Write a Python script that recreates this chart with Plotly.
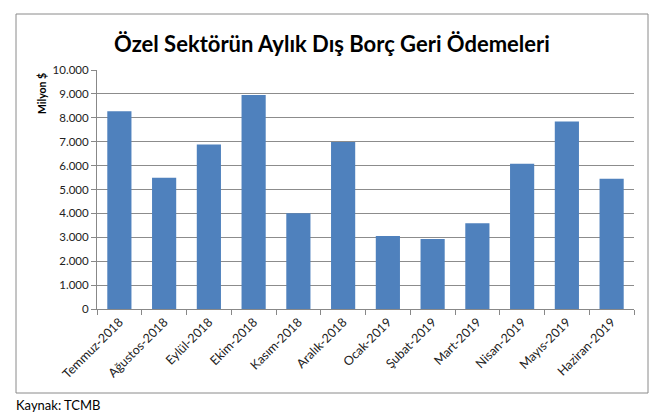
import plotly.graph_objects as go

months = ["Temmuz-2018", "Ağustos-2018", "Eylül-2018", "Ekim-2018", "Kasım-2018", "Aralık-2018",
          "Ocak-2019", "Şubat-2019", "Mart-2019", "Nisan-2019", "Mayıs-2019", "Haziran-2019"]
values = [8270, 5490, 6880, 8950, 4010, 6990, 3050, 2930, 3590, 6080, 7850, 5450]
y_ticks = [0, 1000, 2000, 3000, 4000, 5000, 6000, 7000, 8000, 9000, 10000]

W, H = 663, 413
L, R, T, B = 97, 634, 70, 309

def px_x(px):
    return (px - L) / (R - L)

def px_y(py):
    return (B - py) / (B - T)

fig = go.Figure(go.Bar(x=months, y=values, marker=dict(color="#4F81BD", line=dict(width=0)),
                       width=0.54))

font_family = "Lato, 'Open Sans', sans-serif"

fig.update_layout(
    width=W, height=H,
    margin=dict(l=L, r=W - R, t=T, b=H - B),
    plot_bgcolor="white", paper_bgcolor="white",
    separators=",.",
    font=dict(family=font_family, size=11, color="#222"),
    title=dict(text="<b>Özel Sektörün Aylık Dış Borç Geri Ödemeleri</b>",
               x=332 / W, xanchor="center", y=1 - 44 / H, yanchor="middle",
               font=dict(family=font_family, size=22, color="black")),
    showlegend=False,
    xaxis=dict(type="category", tickangle=-45, showgrid=False,
               ticks="outside", tickson="boundaries", ticklen=5, tickcolor="#888",
               showline=True, linecolor="#888", linewidth=1,
               tickfont=dict(size=12.5, color="#222")),
    yaxis=dict(range=[0, 10000], tickvals=y_ticks, tickformat=",d",
               showgrid=True, gridcolor="#8c8c8c", gridwidth=1,
               showline=True, linecolor="#888", linewidth=1,
               ticks="outside", ticklen=5, tickcolor="#888",
               zeroline=False, tickfont=dict(size=11.5, color="#222")),
    shapes=[dict(type="rect", xref="paper", yref="paper",
                 x0=px_x(16), x1=px_x(648), y0=px_y(393), y1=px_y(14),
                 line=dict(color="#8a8a8a", width=1), fillcolor="rgba(0,0,0,0)", layer="below")],
    annotations=[
        dict(text="<b>Milyon $</b>", textangle=-90, xref="paper", yref="paper",
             x=px_x(42), y=px_y(94), xanchor="center", yanchor="middle", showarrow=False,
             font=dict(size=10.5, color="black", family=font_family)),
        dict(text="Kaynak: TCMB", xref="paper", yref="paper",
             x=px_x(14), y=px_y(405), xanchor="left", yanchor="middle", showarrow=False,
             font=dict(size=13, color="black", family=font_family)),
    ],
)

fig.write_html("out.html", config={"displayModeBar": False},
               post_script="document.body.style.margin='0';document.body.style.overflow='hidden';")
